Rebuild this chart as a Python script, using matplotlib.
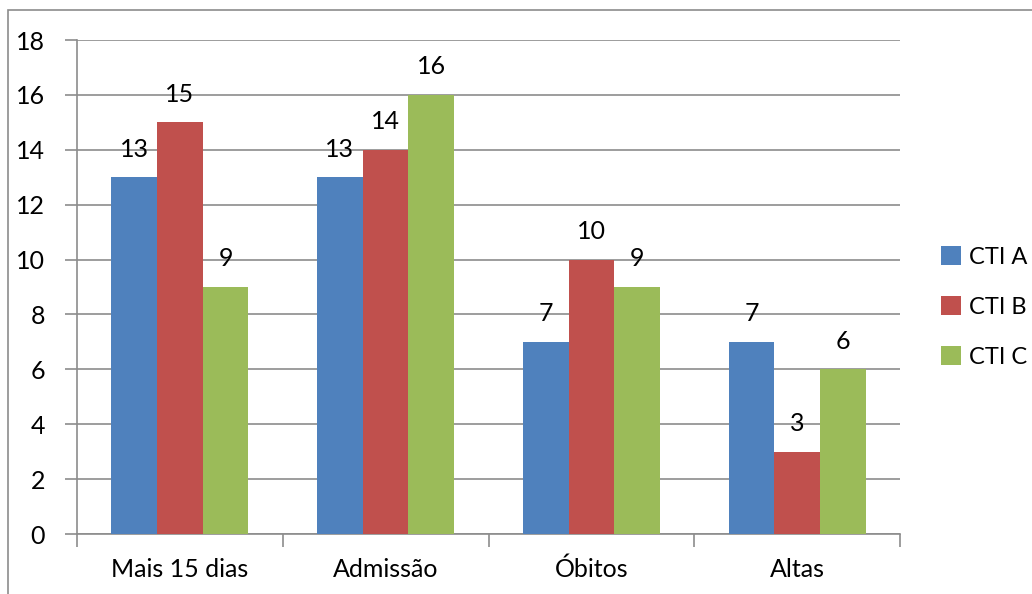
import matplotlib
matplotlib.use("Agg")
import matplotlib.pyplot as plt
from matplotlib.patches import Rectangle
import numpy as np

plt.rcParams['font.family'] = ['Lato', 'DejaVu Sans']

categorias = ["Mais 15 dias", "Admissão", "Óbitos", "Altas"]
series = ["CTI A", "CTI B", "CTI C"]
cti_a = [13, 13, 7, 7]
cti_b = [15, 14, 10, 3]
cti_c = [9, 16, 9, 6]
cores = ["#4F81BD", "#C0504D", "#9BBB59"]
yticks = list(range(0, 19, 2))

W, H = 1032, 594
fig = plt.figure(figsize=(W / 100, H / 100), dpi=100)
ax = fig.add_axes([77 / W, 1 - 534 / H, (900 - 77) / W, (534 - 40) / H])

# outer chart frame (runs off the right and bottom edges)
fig.patches.append(Rectangle((8 / W, -0.1), 1.2, 1 - 10 / H + 0.1, transform=fig.transFigure,
                             fill=False, edgecolor="#8c8c8c", linewidth=1.2, zorder=0))

x = np.arange(len(categorias))
larg = 1 / 4.5
fs = 18
for k, (vals, cor) in enumerate(zip([cti_a, cti_b, cti_c], cores)):
    pos = x + (k - 1) * larg
    barras = ax.bar(pos, vals, width=larg, color=cor, label=series[k], zorder=3)
    for b, v in zip(barras, vals):
        ax.annotate(str(v), (b.get_x() + b.get_width() / 2, v), xytext=(0, 12),
                    textcoords="offset points", ha="center", va="bottom", fontsize=fs)

ax.set_xlim(-0.5, len(categorias) - 0.5)
ax.set_ylim(0, 18)
ax.set_yticks(yticks)
ax.tick_params(axis="y", labelsize=fs, length=9, width=1.2, color="#8c8c8c", pad=14)
ax.yaxis.grid(True, color="#8c8c8c", linewidth=1.2, zorder=0)

ax.set_xticks(np.arange(-0.5, len(categorias)), labels=[""] * (len(categorias) + 1))
ax.set_xticks(x, labels=categorias, minor=True)
ax.tick_params(axis="x", which="major", length=9, width=1.2, color="#8c8c8c")
ax.tick_params(axis="x", which="minor", length=0, labelsize=fs, pad=17)

for s in ["top", "right"]:
    ax.spines[s].set_visible(False)
for s in ["left", "bottom"]:
    ax.spines[s].set_color("#8c8c8c")
    ax.spines[s].set_linewidth(1.2)

ax.legend(loc="center left", bbox_to_anchor=(941 / W, 1 - 307 / H), bbox_transform=fig.transFigure,
          frameon=False, fontsize=17, handlelength=0.85, handleheight=0.85, handletextpad=0.35,
          labelspacing=1.2, borderaxespad=0, borderpad=0)

fig.savefig("out.png", dpi=100)
